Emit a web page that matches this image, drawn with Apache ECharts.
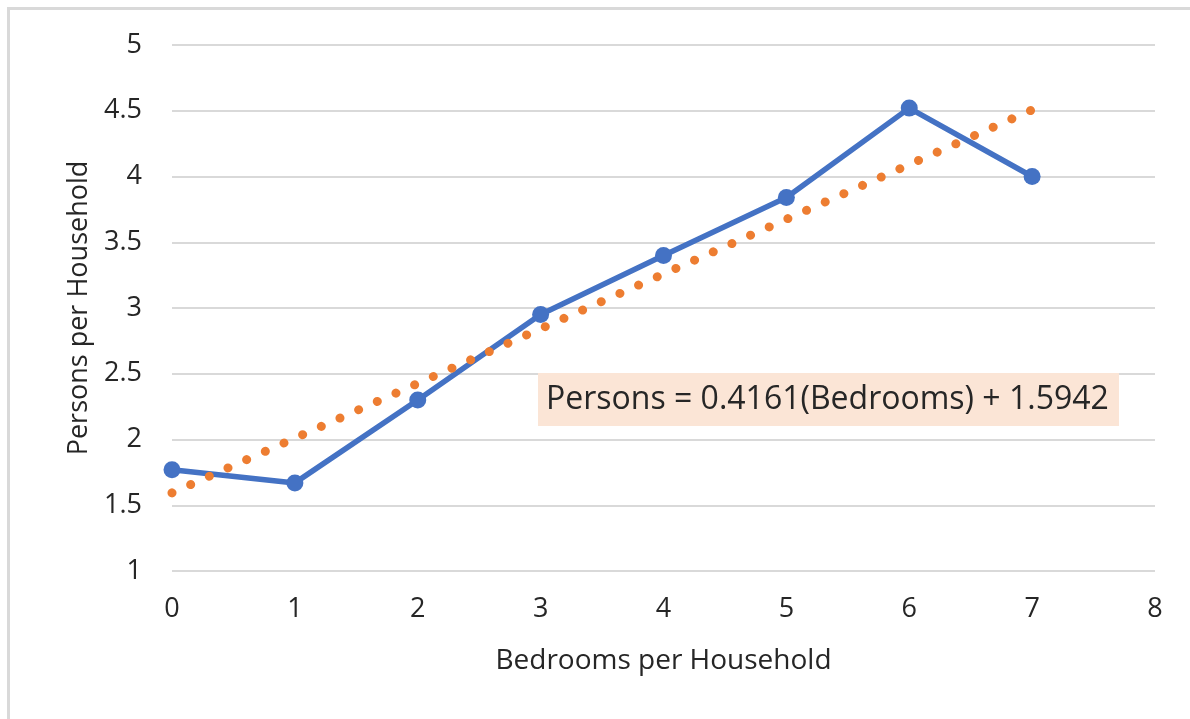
<!DOCTYPE html>
<html>
<head>
<meta charset="utf-8">
<script src="https://cdn.jsdelivr.net/npm/echarts@6/dist/echarts.min.js"></script>
<style>
  html, body { margin: 0; padding: 0; background: #fff; }
  #frame { position: absolute; left: 0; top: 0; width: 1190px; height: 719px; }
  #edge { position: absolute; left: 7px; top: 7px; width: 1183px; height: 712px;
          border-top: 3px solid #d9d9d9; border-left: 3px solid #d9d9d9; box-sizing: border-box; }
  #chart { position: absolute; left: 0; top: 0; width: 1190px; height: 719px; }
</style>
</head>
<body>
<div id="frame">
  <div id="edge"></div>
  <div id="chart"></div>
</div>
<script>
// Average household size by number of bedrooms
const bedrooms = [0, 1, 2, 3, 4, 5, 6, 7];
const persons = [1.77, 1.67, 2.30, 2.95, 3.40, 3.84, 4.52, 4.00];

// Least-squares trend line coefficients, as printed in the equation label
const trendSlope = 0.4161;
const trendIntercept = 1.5942;
const trendLabel = 'Persons = 0.4161(Bedrooms) + 1.5942';

const xTicks = [0, 8];   // x axis range
const yTicks = [1, 5];   // y axis range

const observed = bedrooms.map((b, i) => [b, persons[i]]);
const xFirst = bedrooms[0];
const xLast = bedrooms[bedrooms.length - 1];
const trend = [
  [xFirst, trendSlope * xFirst + trendIntercept],
  [xLast, trendSlope * xLast + trendIntercept]
];

const FONT = 'Open Sans';
const TEXT = '#262626';
const chart = echarts.init(document.getElementById('chart'), null, { renderer: 'canvas' });

chart.setOption({
  animation: false,
  backgroundColor: 'transparent',
  grid: { left: 172, right: 35, top: 45, bottom: 148 },
  xAxis: {
    type: 'value',
    min: xTicks[0], max: xTicks[1], interval: 1,
    name: 'Bedrooms per Household',
    nameLocation: 'middle',
    nameGap: 76,
    nameTextStyle: { fontFamily: FONT, fontSize: 28, color: TEXT },
    axisLine: { show: false },
    axisTick: { show: false },
    splitLine: { show: false },
    axisLabel: { fontFamily: FONT, fontSize: 27, color: TEXT, margin: 25 }
  },
  yAxis: {
    type: 'value',
    min: yTicks[0], max: yTicks[1], interval: 0.5,
    name: 'Persons per Household',
    nameLocation: 'middle',
    nameGap: 79,
    nameRotate: 90,
    nameTextStyle: { fontFamily: FONT, fontSize: 27, color: TEXT },
    axisLine: { show: false },
    axisTick: { show: false },
    splitLine: { lineStyle: { color: '#d9d9d9', width: 2 } },
    axisLabel: { fontFamily: FONT, fontSize: 27, color: TEXT, margin: 30 }
  },
  series: [
    {
      name: 'Persons',
      type: 'line',
      data: observed,
      symbol: 'circle',
      symbolSize: 17,
      lineStyle: { color: '#4472c4', width: 5.5 },
      itemStyle: { color: '#4472c4' },
      z: 2
    },
    {
      name: 'Trend',
      type: 'line',
      data: trend,
      symbol: 'none',
      lineStyle: { color: '#ed7d31', width: 9, type: [0.01, 20.42], cap: 'round' },
      z: 3
    }
  ],
  graphic: [
    {
      type: 'rect',
      left: 538, top: 373,
      shape: { width: 581, height: 53 },
      style: { fill: '#fbe5d6' },
      z: 10
    },
    {
      type: 'text',
      x: 546, y: 400,
      style: {
        text: trendLabel, fontFamily: FONT, fontSize: 32, fill: TEXT,
        verticalAlign: 'middle', align: 'left'
      },
      z: 11
    }
  ]
});
</script>
</body>
</html>
